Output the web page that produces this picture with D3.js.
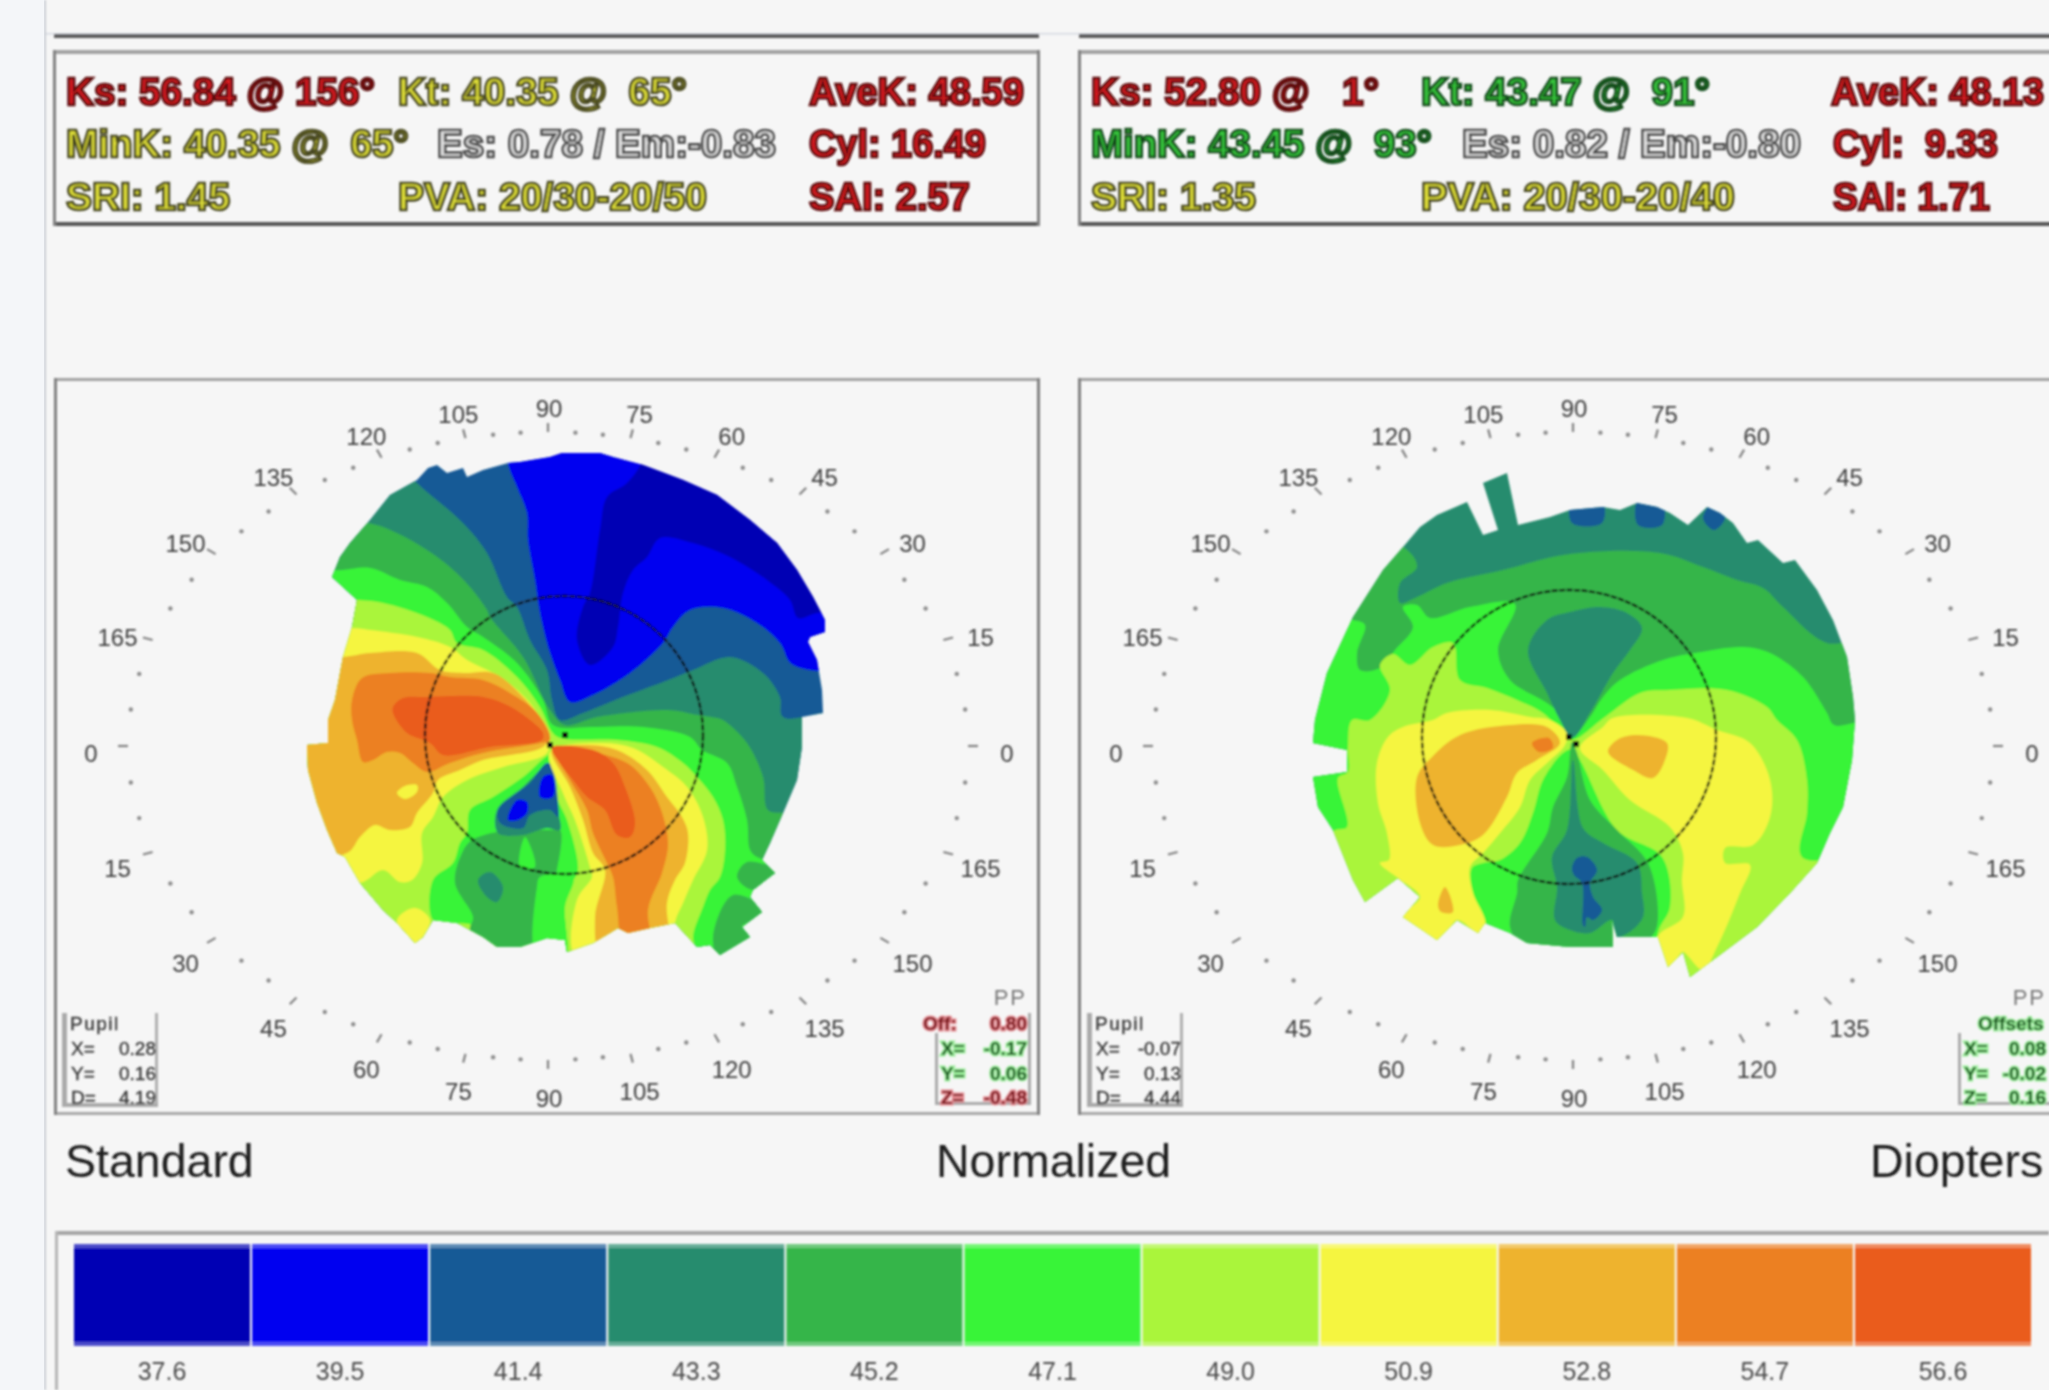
<!DOCTYPE html>
<html>
<head>
<meta charset="utf-8" />
<title>Corneal topography</title>
<script src="https://d3js.org/d3.v7.min.js"></script>
<style>
  body { margin: 0; padding: 0; background: #f6f6f6; }
  svg { display: block; }
  text { font-family: "Liberation Sans", Arial, sans-serif; white-space: pre; }
</style>
</head>
<body>
<div id="chart"></div>
<script>

// colour scale, diopters
const levels = ['37.6', '39.5', '41.4', '43.3', '45.2', '47.1', '49.0', '50.9', '52.8', '54.7', '56.6']
const levelColors = ['#0000b4', '#0000f0', '#185a96', '#288c6e', '#36b54a', '#39f439', '#aaf53a', '#f5f540', '#eeb32d', '#ec8024', '#ea5b1e']

const captions = ['Standard', 'Normalized', 'Diopters']

const leftHeader = [
  'Ks: 56.84 @ 156°', 'Kt: 40.35 @  65°', 'AveK: 48.59',
  'MinK: 40.35 @  65°', 'Es: 0.78 / Em:-0.83', 'Cyl: 16.49',
  'SRI: 1.45', 'PVA: 20/30-20/50', 'SAI: 2.57'
]
const rightHeader = [
  'Ks: 52.80 @   1°', 'Kt: 43.47 @  91°', 'AveK: 48.13',
  'MinK: 43.45 @  93°', 'Es: 0.82 / Em:-0.80', 'Cyl:  9.33',
  'SRI: 1.35', 'PVA: 20/30-20/40', 'SAI: 1.71'
]
const leftHeaderTone = ['red', 'yellow', 'red', 'yellow', 'gray', 'red', 'yellow', 'yellow', 'red']
const rightHeaderTone = ['red', 'green', 'red', 'green', 'gray', 'red', 'yellow', 'yellow', 'red']

const leftPupil = ['Pupil', 'X=', '0.28', 'Y=', '0.16', 'D=', '4.19']
const rightPupil = ['Pupil', 'X=', '-0.07', 'Y=', '0.13', 'D=', '4.44']
const leftOffset = ['Off:', '0.80', 'X=', '-0.17', 'Y=', '0.06', 'Z=', '-0.48']
const rightOffset = ['Offsets', '', 'X=', '0.08', 'Y=', '-0.02', 'Z=', '0.16']
const leftOffsetTone = ['red', 'green', 'green', 'red']
const rightOffsetTone = ['green', 'green', 'green', 'green']

// contour bands, [level, [[u, v], ...]], painted in order.
// u, v are units of the map frame
const leftOutline = [[453,83],[428,90],[412,97],[408,88],[392,93],[382,85],[373,88],[362,100],[335,115],[315,140],[295,163],[285,177],[277,197],[302,220],[297,247],[288,277],[280,320],[273,340],[273,363],[252,365],[253,390],[262,423],[272,450],[282,473],[290,477],[305,503],[328,530],[342,543],[360,563],[368,557],[378,540],[402,543],[428,557],[442,567],[465,567],[492,558],[510,560],[512,572],[538,563],[555,553],[563,548],[573,553],[595,548],[620,543],[642,567],[655,565],[665,575],[695,557],[687,547],[707,532],[695,517],[698,510],[720,493],[707,480],[715,463],[728,433],[742,400],[747,367],[747,337],[768,333],[767,310],[762,280],[753,262],[755,257],[770,252],[770,240],[758,217],[742,190],[722,163],[695,140],[662,115],[628,100],[588,85],[558,77],[545,73],[507,73],[495,77],[465,82]]
const leftBands = [
  ['41.4', [[200,40],[800,40],[800,640],[200,640]]],
  ['43.3', [[340,80],[362,103],[408,143],[432,173],[452,217],[462,227],[475,260],[492,290],[497,320],[505,340],[528,333],[565,318],[608,302],[638,290],[675,277],[708,293],[725,317],[728,337],[800,337],[800,640],[200,640],[200,80]]],
  ['39.5', [[453,40],[453,83],[462,107],[472,133],[473,160],[480,200],[485,233],[492,263],[495,273],[505,300],[515,322],[538,315],[575,293],[608,263],[618,247],[635,230],[668,228],[702,243],[725,263],[738,285],[800,282],[800,40]]],
  ['37.6', [[552,117],[572,103],[588,80],[600,30],[800,30],[860,200],[850,233],[790,233],[762,233],[743,238],[735,220],[712,200],[675,177],[638,163],[605,158],[592,177],[578,190],[568,213],[563,247],[558,267],[535,285],[522,260],[528,227],[535,213],[545,150]]],
  ['45.2', [[200,143],[313,143],[342,153],[372,170],[395,187],[415,207],[432,230],[435,237],[468,277],[495,330],[510,345],[542,337],[612,330],[643,335],[662,338],[668,340],[692,363],[708,397],[713,430],[732,433],[800,440],[800,640],[200,640]]],
  ['47.1', [[200,200],[288,190],[315,188],[345,200],[372,207],[392,223],[412,247],[428,257],[462,283],[488,320],[498,345],[538,347],[588,347],[635,357],[647,370],[672,383],[682,407],[692,440],[695,470],[702,477],[715,480],[800,480],[800,640],[200,640]]],
  ['45.2', [[682,497],[692,482],[725,493],[698,510]]],
  ['45.2', [[658,557],[678,515],[712,532],[687,547],[700,557],[665,580]]],
  ['49.0', [[200,220],[302,220],[328,223],[372,237],[395,250],[402,263],[428,270],[462,297],[485,327],[497,352],[505,358],[562,360],[602,367],[628,383],[642,397],[658,417],[668,440],[670,470],[665,497],[655,510],[648,527],[638,557],[642,580],[200,640]]],
  ['47.1', [[495,375],[468,397],[438,417],[415,430],[412,453],[405,463],[398,483],[378,500],[378,540],[398,543],[418,545],[495,580],[510,580],[510,520],[517,503],[523,490],[512,440],[503,420],[497,383]]],
  ['45.2', [[417,460],[407,473],[400,503],[418,537],[415,550],[430,570],[480,580],[500,500],[505,450],[495,450],[455,450]]],
  ['47.1', [[470,457],[480,487],[465,487]]],
  ['47.1', [[482,507],[485,497],[518,497],[510,527],[510,580],[482,580]]],
  ['43.3', [[423,500],[435,492],[448,507],[442,522],[432,517]]],
  ['43.3', [[442,430],[443,453],[468,455],[492,448],[505,450],[502,427],[498,397],[495,383],[468,407]]],
  ['41.4', [[443,430],[445,443],[468,448],[475,435],[495,430],[503,437],[503,423],[498,390],[492,383],[475,403],[462,413]]],
  ['39.5', [[453,440],[462,420],[472,422],[472,433],[463,440]]],
  ['39.5', [[485,417],[488,397],[497,395],[498,417]]],
  ['50.9', [[200,248],[297,248],[315,250],[362,257],[395,267],[412,280],[445,297],[475,323],[493,355],[492,373],[448,387],[412,400],[388,417],[378,437],[367,453],[367,483],[357,500],[345,502],[328,490],[305,503],[200,503]]],
  ['50.9', [[342,540],[360,528],[375,540],[368,557],[360,570]]],
  ['52.8', [[200,277],[288,277],[315,273],[362,273],[385,290],[408,293],[438,293],[468,317],[495,355],[488,367],[428,380],[405,390],[383,400],[378,413],[362,433],[355,447],[335,450],[320,445],[305,457],[292,473],[200,473]]],
  ['50.9', [[342,413],[350,406],[362,405],[362,412],[350,419]]],
  ['54.7', [[297,320],[307,298],[335,293],[375,293],[395,297],[428,300],[455,313],[482,333],[495,360],[485,363],[428,373],[395,383],[372,392],[358,383],[345,373],[332,372],[318,380],[308,382],[302,360],[297,340]]],
  ['56.6', [[338,327],[348,318],[372,317],[428,317],[452,325],[475,340],[488,353],[487,360],[435,367],[388,375],[375,363],[352,353],[338,333]]],
  ['50.9', [[495,372],[545,363],[578,368],[608,387],[632,407],[648,437],[652,470],[638,500],[628,523],[620,543],[622,580],[522,580],[522,520],[537,497],[535,487],[520,440],[508,413]]],
  ['52.8', [[497,370],[528,365],[562,370],[592,390],[612,417],[627,437],[633,453],[630,483],[620,500],[612,523],[612,580],[548,580],[540,537],[550,490],[538,473],[528,440],[515,407]]],
  ['54.7', [[498,367],[528,370],[572,383],[592,403],[605,427],[613,463],[607,493],[593,530],[598,580],[572,580],[562,527],[558,497],[552,483],[538,453],[532,430],[515,400]]],
  ['56.6', [[497,368],[538,370],[558,383],[570,407],[580,443],[575,457],[562,455],[550,430],[532,417],[518,400],[505,383]]]
]

const rightOutline = [[324,167],[341,147],[358,135],[388,122],[404,155],[419,150],[404,103],[428,93],[439,145],[471,137],[491,130],[524,127],[541,130],[558,123],[578,127],[591,133],[609,145],[628,127],[641,133],[654,143],[668,163],[679,160],[704,183],[716,180],[738,210],[754,240],[768,277],[774,317],[776,340],[773,380],[764,427],[751,453],[738,483],[711,513],[678,547],[638,577],[611,597],[604,572],[599,577],[589,587],[579,557],[548,557],[538,557],[533,540],[534,567],[491,567],[448,563],[431,553],[406,543],[399,553],[378,540],[358,560],[324,537],[341,517],[319,498],[286,522],[274,500],[254,450],[239,427],[234,397],[268,392],[268,370],[234,363],[236,340],[248,293],[274,237],[304,190]]
const rightBands = [
  ['43.3', [[200,40],[800,40],[800,640],[200,640]]],
  ['41.4', [[493,120],[523,120],[523,143],[493,143]]],
  ['41.4', [[559,120],[583,120],[583,145],[559,145]]],
  ['41.4', [[635,122],[646,138],[635,150],[624,138]]],
  ['45.2', [[200,150],[324,167],[338,187],[321,203],[321,223],[338,217],[368,203],[424,190],[491,174],[581,173],[624,187],[658,200],[684,208],[704,227],[748,263],[800,260],[800,640],[200,640]]],
  ['47.1', [[200,240],[274,240],[286,245],[278,273],[281,290],[301,288],[316,270],[334,247],[324,227],[338,225],[351,238],[391,227],[436,224],[419,270],[431,300],[468,323],[488,340],[493,358],[511,337],[524,317],[541,300],[584,280],[616,273],[664,267],[691,273],[724,297],[748,333],[755,345],[800,345],[800,640],[200,640]]],
  ['49.0', [[254,452],[268,447],[259,398],[269,392],[269,367],[273,340],[291,340],[311,310],[301,285],[314,274],[331,285],[354,267],[374,263],[381,300],[408,308],[438,320],[464,333],[484,353],[493,360],[526,337],[561,313],[591,310],[648,310],[688,327],[698,340],[718,360],[728,400],[728,433],[723,477],[800,483],[800,640],[579,640],[579,553],[591,527],[583,477],[538,450],[493,370],[484,373],[464,400],[454,433],[441,463],[421,480],[404,483],[393,488],[394,513],[406,540],[406,640],[240,640]]],
  ['50.9', [[354,340],[368,333],[411,330],[451,337],[471,340],[488,353],[486,365],[468,383],[451,400],[441,427],[421,453],[404,473],[391,487],[394,513],[406,540],[406,550],[399,553],[378,540],[358,570],[324,537],[341,517],[319,498],[301,483],[310,480],[308,453],[299,423],[298,383],[309,357],[324,347]]],
  ['52.8', [[381,355],[431,345],[468,347],[481,363],[458,380],[438,393],[428,417],[404,455],[381,465],[354,465],[341,443],[338,397],[353,377]]],
  ['54.7', [[453,363],[470,358],[474,368],[460,372]]],
  ['52.8', [[359,525],[366,507],[374,532],[362,532]]],
  ['50.9', [[501,368],[524,347],[534,338],[608,338],[638,350],[671,363],[691,400],[691,437],[674,465],[646,468],[646,483],[671,485],[661,513],[638,567],[624,590],[604,572],[599,577],[589,600],[579,557],[604,537],[603,500],[604,473],[591,447],[551,420],[524,390]]],
  ['52.8', [[529,372],[538,360],[558,355],[588,363],[586,380],[574,398],[554,390]]],
  ['45.2', [[493,362],[498,373],[511,420],[538,450],[569,483],[579,537],[574,555],[548,570],[448,570],[431,547],[438,513],[439,500],[468,453],[474,427],[488,397]]],
  ['43.3', [[494,380],[504,448],[524,463],[558,483],[563,513],[564,537],[549,553],[536,557],[533,540],[511,553],[491,550],[476,540],[478,507],[473,477],[488,450]]],
  ['41.4', [[498,478],[508,477],[518,490],[511,503],[514,517],[523,530],[514,540],[508,537],[506,547],[504,545],[503,503],[495,495],[493,488]]],
  ['43.3', [[449,270],[468,240],[491,232],[521,227],[548,233],[563,248],[551,270],[534,293],[511,333],[493,358],[481,340],[468,313]]]
]

const frameW = 985, frameH = 733
const svg = d3.select('#chart').append('svg').attr('width', 2049).attr('height', 1390)

const defs = svg.append('defs')
defs.append('filter').attr('id', 'soft').attr('x', 0).attr('y', 0).attr('width', '100%').attr('height', '100%')
  .append('feGaussianBlur').attr('stdDeviation', 0.8)

svg.append('rect').attr('width', 45).attr('height', 1390).attr('fill', '#f4f6f9')
const root = svg.append('g').attr('filter', 'url(#soft)')
root.append('rect').attr('x', 44).attr('y', 0).attr('width', 2).attr('height', 1390).attr('fill', '#c8ccd2')
root.append('rect').attr('x', 46).attr('y', 33).attr('width', 2003).attr('height', 1.5).attr('fill', '#d4d8e0')

const toneFill = { red: '#d81c20', yellow: '#e2e238', green: '#38c83c', gray: '#e4e4e4' }
const toneEdge = { red: '#5c0a10', yellow: '#4a4a22', green: '#124c1c', gray: '#4c4c4c' }
const haloFill = { red: '#7a0c16', green: '#1a5a22' }
const haloEdge = { red: '#e58a90', green: '#9aee9a' }

// header strip, one per map
const headerCols = [
  { left: [66, 398, 809], right: [1091, 1421, 1831] },
  { left: [66, 437, 809], right: [1091, 1462, 1833] },
  { left: [66, 398, 809], right: [1091, 1421, 1833] }
]
const headerWidths = {
  left: [309, 289, 215, 343, 339, 177, 164, 309, 161],
  right: [288, 289, 213, 341, 339, 165, 165, 314, 157]
}
const headerBase = [105, 157, 210]

const drawHeader = (side, x0, x1, labels, tones) => {
  const g = root.append('g')
  g.append('rect').attr('x', x0).attr('y', 34).attr('width', x1 - x0).attr('height', 4).attr('fill', '#5a5a5a')
  g.append('rect').attr('x', x0).attr('y', 50).attr('width', x1 - x0).attr('height', 4).attr('fill', '#a3a3a3')
  g.append('rect').attr('x', x0).attr('y', 222).attr('width', x1 - x0).attr('height', 4).attr('fill', '#565656')
  g.append('rect').attr('x', x0 - 1).attr('y', 50).attr('width', 3).attr('height', 176).attr('fill', '#808080')
  g.append('rect').attr('x', x1 - 2).attr('y', 50).attr('width', 3).attr('height', 176).attr('fill', '#808080')
  g.selectAll('text').data(labels).enter().append('text')
    .attr('font-size', 39)
    .attr('font-weight', 'bold')
    .attr('fill', (d, i) => toneFill[tones[i]])
    .attr('stroke', (d, i) => toneEdge[tones[i]])
    .attr('stroke-width', 2.6)
    .text(d => d)
    // squeeze each string to the width it has in the picture
    .attr('transform', function (d, i) {
      const sx = headerWidths[side][i] / this.getComputedTextLength()
      const px = headerCols[Math.floor(i / 3)][side][i % 3]
      return `translate(${px},${headerBase[Math.floor(i / 3)]}) scale(${sx},1)`
    })
}

drawHeader('left', 54, 1039, leftHeader, leftHeaderTone)
drawHeader('right', 1079, 2064, rightHeader, rightHeaderTone)

const ringPoint = (deg, a, b) => {
  const t = deg * Math.PI / 180
  const r = 1 / Math.sqrt(Math.cos(t) ** 2 / (a * a) + Math.sin(t) ** 2 / (b * b))
  return [r * Math.cos(t), -r * Math.sin(t)]
}

const drawMap = (id, left, outline, bands, cfg, pupil, offset, offsetTone) => {
  const x = d3.scaleLinear().domain([0, frameW]).range([left, left + frameW])
  const y = d3.scaleLinear().domain([0, frameH]).range([380, 380 + frameH])
  const color = d3.scaleOrdinal(levels, levelColors)
  const edge = d3.line().x(d => x(d[0])).y(d => y(d[1])).curve(d3.curveLinearClosed)
  const contour = d3.line().x(d => x(d[0])).y(d => y(d[1])).curve(d3.curveCatmullRomClosed.alpha(0.5))

  const g = root.append('g')
  g.append('rect').attr('x', x(0)).attr('y', y(0) - 2).attr('width', frameW).attr('height', 3).attr('fill', '#a3a3a3')
  g.append('rect').attr('x', x(0)).attr('y', y(frameH) - 1).attr('width', frameW).attr('height', 3).attr('fill', '#a8a8a8')
  g.append('rect').attr('x', x(0) - 1).attr('y', y(0) - 2).attr('width', 3).attr('height', frameH + 4).attr('fill', '#808080')
  g.append('rect').attr('x', x(frameW) - 3).attr('y', y(0) - 2).attr('width', 3).attr('height', frameH + 4).attr('fill', '#808080')

  defs.append('clipPath').attr('id', id).append('path').attr('d', edge(outline))

  g.append('g').attr('clip-path', `url(#${id})`)
    .selectAll('path').data(bands).enter().append('path')
    .attr('d', d => contour(d[1]))
    .attr('fill', d => color(d[0]))

  // pupil ring and centre marks
  g.append('circle').attr('cx', x(cfg.pupil[0])).attr('cy', y(cfg.pupil[1]))
    .attr('r', x(cfg.pupil[2]) - x(0))
    .attr('fill', 'none').attr('stroke', '#111').attr('stroke-width', 2.4)
    .attr('stroke-dasharray', '6 1.5')
  cfg.marks.forEach(m => {
    g.append('rect').attr('x', x(m[0]) - 3).attr('y', y(m[1]) - 3).attr('width', 6).attr('height', 6).attr('fill', '#111')
  })

  // angle ring: dots every 5 deg, longer tick + label every 15 deg
  const angles = d3.range(0, 360, 5)
  g.selectAll('.dot').data(angles.filter(a => a % 15 !== 0)).enter().append('circle')
    .attr('cx', a => x(cfg.centre[0] + ringPoint(a, 420, 314)[0]))
    .attr('cy', a => y(cfg.centre[1] + ringPoint(a, 420, 314)[1]))
    .attr('r', 2.2).attr('fill', '#8c8c8c')
  g.selectAll('.tick').data(angles.filter(a => a % 15 === 0)).enter().append('line')
    .attr('x1', a => x(cfg.centre[0] + ringPoint(a, 420, 314)[0]))
    .attr('y1', a => y(cfg.centre[1] + ringPoint(a, 420, 314)[1]))
    .attr('x2', a => x(cfg.centre[0] + ringPoint(a, 430, 323)[0]))
    .attr('y2', a => y(cfg.centre[1] + ringPoint(a, 430, 323)[1]))
    .attr('stroke', '#808080').attr('stroke-width', 2.2)
  g.selectAll('.lab').data(angles.filter(a => a % 15 === 0)).enter().append('text')
    .attr('x', a => x(cfg.centre[0] + 1 + ringPoint(a, 458, 345)[0]))
    .attr('y', a => y(cfg.centre[1] + 7 + ringPoint(a, 458, 345)[1]))
    .attr('dy', '0.36em')
    .attr('text-anchor', 'middle')
    .attr('font-size', 24).attr('fill', '#3c3c3c')
    .text(a => a % 180)

  // pupil box
  const bx = cfg.pupilBox
  const pb = g.append('g').attr('transform', `translate(${x(bx)},${y(633)})`)
  pb.append('rect').attr('x', 0).attr('y', 0).attr('width', 5).attr('height', 94).attr('fill', '#aaa')
  pb.append('rect').attr('x', 93).attr('y', 0).attr('width', 3).attr('height', 94).attr('fill', '#b0b0b0')
  pb.append('rect').attr('x', 0).attr('y', 90).attr('width', 96).attr('height', 4).attr('fill', '#aaa')
  const boxText = s => s.attr('font-size', 19).attr('fill', '#3a3a3a').attr('stroke', '#3a3a3a').attr('stroke-width', 0.4)
  pb.append('text').attr('x', 8).attr('y', 17).attr('letter-spacing', 1.5).call(boxText).text(pupil[0])
  d3.range(3).forEach(i => {
    pb.append('text').attr('x', 9).attr('y', 42 + i * 24.5).call(boxText).text(pupil[1 + i * 2])
    pb.append('text').attr('x', 94).attr('y', 42 + i * 24.5).attr('text-anchor', 'end').call(boxText).text(pupil[2 + i * 2])
  })

  // offset box
  const ob = g.append('g').attr('transform', `translate(${x(cfg.offsetBox)},${y(633)})`)
  ob.append('rect').attr('x', 0).attr('y', 20).attr('width', 3).attr('height', 72).attr('fill', '#aaa')
  ob.append('rect').attr('x', 93).attr('y', 0).attr('width', 3).attr('height', 92).attr('fill', '#aaa')
  ob.append('rect').attr('x', 0).attr('y', 89).attr('width', 96).attr('height', 3).attr('fill', '#aaa')
  ob.append('text').attr('x', cfg.offsetEnd).attr('y', -8).attr('text-anchor', 'end').attr('font-size', 22).attr('letter-spacing', 2).attr('fill', '#777').text('PP')
  d3.range(4).forEach(i => {
    const tone = offsetTone[i]
    const yy = 17 + (i === 0 ? 0 : 25 + (i - 1) * 24.5)
    const halo = s => s.attr('font-size', 19).attr('font-weight', 'bold')
      .attr('fill', haloFill[tone]).attr('stroke', haloEdge[tone]).attr('stroke-width', 2.8)
      .style('paint-order', 'stroke')
    ob.append('text').attr('x', i === 0 ? cfg.offTitle : 6).attr('y', yy).call(halo).text(offset[i * 2])
    ob.append('text').attr('x', cfg.offsetEnd).attr('y', yy).attr('text-anchor', 'end').call(halo).text(offset[i * 2 + 1])
  })
}

drawMap('leftClip', 55, leftOutline, leftBands,
  { centre: [493, 366], pupil: [509, 355, 139], marks: [[510, 355], [495, 365]], pupilBox: 7, offsetBox: 880, offTitle: -12, offsetEnd: 92 },
  leftPupil, leftOffset, leftOffsetTone)
drawMap('rightClip', 1079, rightOutline, rightBands,
  { centre: [494, 366], pupil: [490, 357, 147], marks: [[490, 357], [497, 364]], pupilBox: 8, offsetBox: 879, offTitle: 20, offsetEnd: 88 },
  rightPupil, rightOffset, rightOffsetTone)

// captions under the maps
const captionX = [65, 936, 1870]
root.selectAll('.cap').data(captions).enter().append('text')
  .attr('x', (d, i) => captionX[i]).attr('y', 1177)
  .attr('font-size', 46.5).attr('fill', '#1c1c1c')
  .text(d => d)

// colour key
root.append('rect').attr('x', 55).attr('y', 1231).attr('width', 1994).attr('height', 4).attr('fill', '#a5a5a5')
root.append('rect').attr('x', 55).attr('y', 1231).attr('width', 3).attr('height', 159).attr('fill', '#b5b5b5')
const band = d3.scaleBand().domain(levels).range([74, 2031]).paddingInner(0.012).paddingOuter(0)
const key = root.selectAll('.key').data(levels).enter().append('g')
key.append('rect').attr('x', d => band(d)).attr('y', 1244).attr('width', band.bandwidth()).attr('height', 102)
  .attr('fill', d => d3.scaleOrdinal(levels, levelColors)(d))
key.append('rect').attr('x', d => band(d)).attr('y', 1244).attr('width', band.bandwidth()).attr('height', 4)
  .attr('fill', '#fff').attr('opacity', 0.3)
key.append('rect').attr('x', d => band(d)).attr('y', 1342).attr('width', band.bandwidth()).attr('height', 4)
  .attr('fill', '#fff').attr('opacity', 0.3)
key.append('text').attr('x', d => band(d) + band.bandwidth() / 2).attr('y', 1380)
  .attr('text-anchor', 'middle').attr('font-size', 25).attr('fill', '#4a4a4a')
  .text(d => d)

</script>
</body>
</html>
